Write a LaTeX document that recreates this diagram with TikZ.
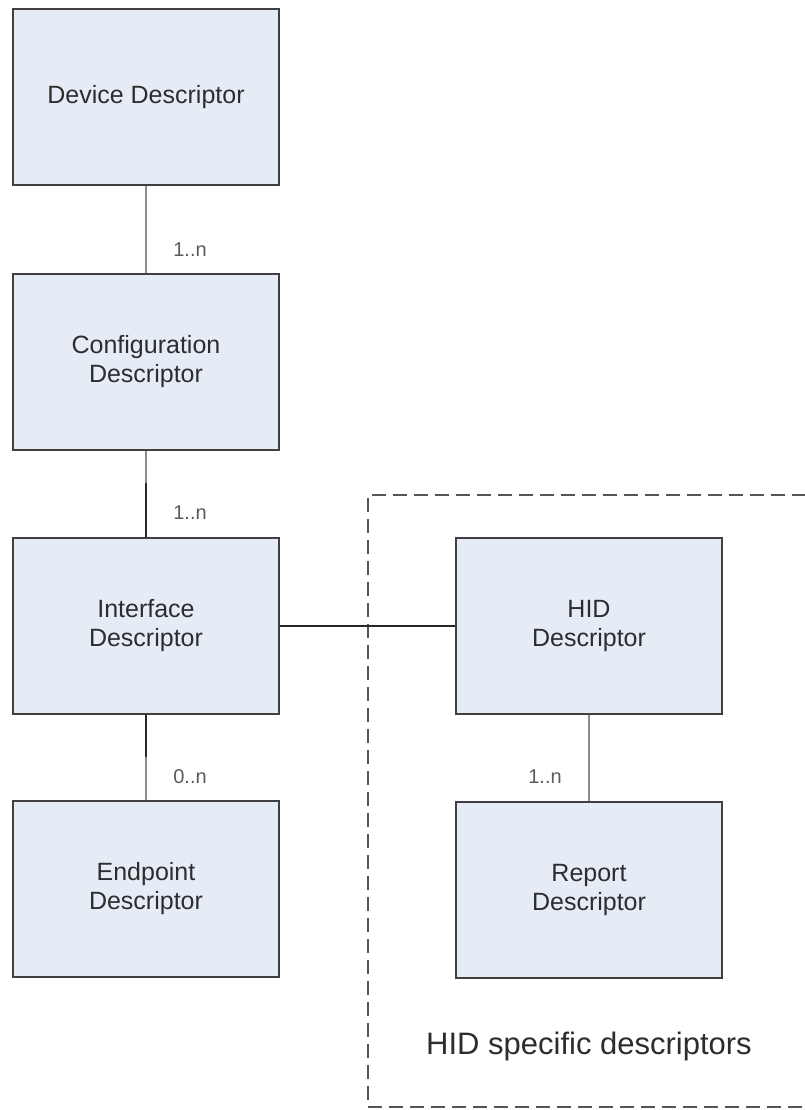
\documentclass[tikz,border=0pt]{standalone}
\usepackage{fontspec}
\setmainfont{Liberation Sans}
\definecolor{boxfill}{RGB}{230,236,246}
\definecolor{boxline}{RGB}{64,64,64}
\definecolor{txt}{RGB}{45,45,45}
\definecolor{lbl}{RGB}{90,90,90}
\definecolor{lightlink}{RGB}{140,140,140}
\definecolor{darklink}{RGB}{40,40,40}
\definecolor{frame}{RGB}{85,85,85}
\tikzset{
  descbox/.style={draw=boxline, line width=1.6pt, fill=boxfill,
    minimum width=266pt, minimum height=176pt, inner sep=0pt,
    align=center, text=txt, font=\fontsize{25}{29}\selectfont},
  lightlink/.style={draw=lightlink, line width=1.8pt},
  darklink/.style={draw=darklink, line width=1.4pt},
  mult/.style={text=lbl, font=\fontsize{20}{24}\selectfont, inner sep=0pt},
  groupframe/.style={draw=frame, line width=1.4pt, dash pattern=on 14pt off 7pt},
  grouplabel/.style={text=txt, font=\fontsize{31}{36}\selectfont, inner sep=0pt}
}
\begin{document}
\begin{tikzpicture}[x=1pt, y=-1pt]
  \useasboundingbox (0,0) rectangle (804,1110);

  % HID-specific group frame (open on the right)
  \draw[groupframe] (806,495) -- (368,495) -- (368,1107) -- (806,1107);
  \node[grouplabel] (grp) at (589,1046) {HID specific descriptors};

  % descriptor boxes
  \node[descbox] (dev) at (146,97)  {Device Descriptor};
  \node[descbox] (cfg) at (146,362) {Configuration\\Descriptor};
  \node[descbox] (ifc) at (146,626) {Interface\\Descriptor};
  \node[descbox] (ept) at (146,889) {Endpoint\\Descriptor};
  \node[descbox] (hid) at (589,626) {HID\\Descriptor};
  \node[descbox] (rep) at (589,890) {Report\\Descriptor};

  % connectors
  \draw[lightlink] (dev.south) -- (cfg.north);
  \draw[lightlink] (cfg.south) -- ++(0,32) coordinate (c1);
  \draw[darklink] (c1) -- (ifc.north);
  \draw[darklink] (ifc.south) -- ++(0,42) coordinate (c2);
  \draw[lightlink] (c2) -- (ept.north);
  \draw[darklink] (ifc.east) -- (hid.west);
  \draw[lightlink] (hid.south) -- (rep.north);

  % multiplicities
  \node[mult] (m1) at (190,250) {1..n};
  \node[mult] (m2) at (190,513) {1..n};
  \node[mult] (m3) at (190,777) {0..n};
  \node[mult] (m4) at (545,777) {1..n};
\end{tikzpicture}
\end{document}
